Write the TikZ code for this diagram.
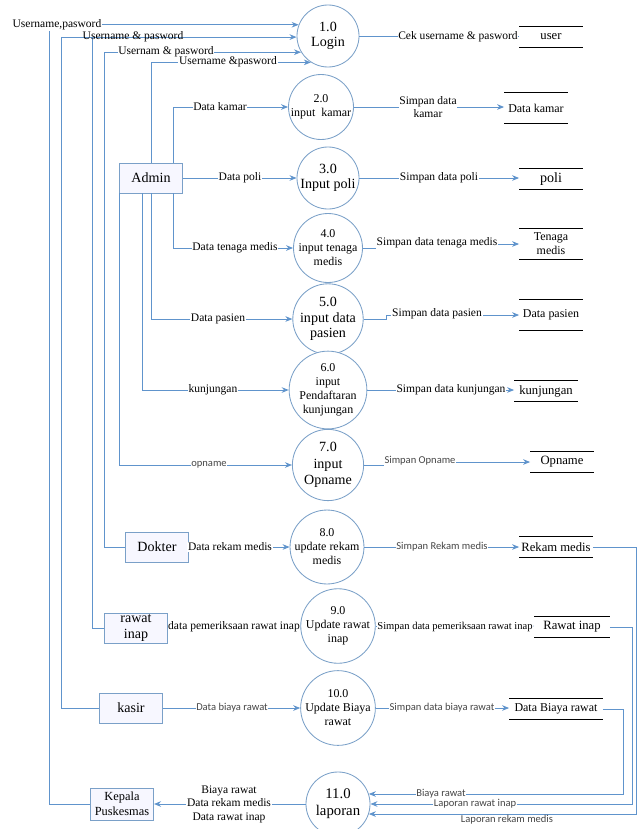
\documentclass[tikz,border=0pt]{standalone}
\usepackage{fontspec}
\setmainfont{Liberation Serif}
\newfontfamily\lblsans{Carlito}
\usepackage{tikz}
\usetikzlibrary{arrows.meta}
\usepackage{xcolor}
\definecolor{flowblue}{RGB}{96,148,204}
\definecolor{bubbleblue}{RGB}{122,160,200}
\definecolor{labelgray}{RGB}{70,70,70}

\begin{document}
\begin{tikzpicture}[x=0.025cm, y=-0.025cm,
  proc/.style={circle, draw=bubbleblue, fill=white, line width=0.6pt, minimum size=1.55cm, inner sep=0, align=center, font=\fontsize{10}{11}\selectfont},
  smalltxt/.style={font=\fontsize{8.5}{10}\selectfont},
  ent/.style={rectangle, draw=bubbleblue, fill=blue!3, line width=0.6pt, minimum width=1.58cm, minimum height=0.75cm, inner sep=1pt, align=center, font=\fontsize{10}{11}\selectfont},
  store/.style={minimum width=1.58cm, minimum height=0.5cm, inner sep=0, align=center, font=\fontsize{9}{10}\selectfont},
  flow/.style={draw=flowblue, line width=0.6pt, -{Stealth[length=5pt,width=4pt]}},
  link/.style={draw=flowblue, line width=0.6pt},
  lbl/.style={fill=white, inner sep=0.5pt, align=center, font=\fontsize{8.2}{9.6}\selectfont},
  slbl/.style={fill=white, inner sep=0.5pt, text=labelgray, font=\lblsans\fontsize{7.5}{8.5}\selectfont}]
\useasboundingbox (0,0) rectangle (638,829);

% processes
\node[proc] (Login) at (328,36) {1.0\\Login};
\node[proc, smalltxt] (p2) at (321,107) {2.0\\input\ \ kamar};
\node[proc] (p3) at (328,178) {3.0\\Input poli};
\node[proc, smalltxt] (p4) at (328,248) {4.0\\input tenaga\\medis};
\node[proc] (p5) at (328,319) {5.0\\input data\\pasien};
\node[proc, smalltxt, minimum size=1.78cm] (p6) at (328,390) {6.0\\input\\Pendaftaran\\kunjungan};
\node[proc, minimum size=1.78cm, font=\fontsize{10}{11.8}\selectfont] (p7) at (328,465) {7.0\\input\\Opname};
\node[proc, smalltxt, minimum size=1.78cm] (p8) at (327,547) {8.0\\update rekam\\medis};
\node[proc, smalltxt, minimum size=1.78cm] (p9) at (338,626) {9.0\\Update rawat\\inap};
\node[proc, smalltxt, minimum size=1.8cm] (p10) at (338,708) {10.0\\Update Biaya\\rawat};
\node[proc, font=\fontsize{10.5}{12}\selectfont, minimum size=1.6cm] (p11) at (338,804) {11.0\\laporan};

% entities
\node[ent] (admin) at (151,178) {Admin};
\node[ent] (dokter) at (157,547) {Dokter};
\node[ent] (rawat) at (136,628) {rawat\\inap};
\node[ent] (kasir) at (131,708) {kasir};
\node[ent, minimum height=0.8cm, font=\fontsize{8.8}{10.5}\selectfont] (kepala) at (122,804) {Kepala\\Puskesmas};

% data stores
\node[store, minimum height=0.53cm] (user) at (551,37) {user};
\node[store, minimum height=0.75cm, font=\fontsize{8.5}{10}\selectfont] (kamarS) at (536,108) {Data kamar};
\node[store, font=\fontsize{10}{11}\selectfont] (poliS) at (551,179) {poli};
\node[store, minimum height=0.75cm, font=\fontsize{8.5}{10}\selectfont] (tenagaS) at (551,244) {Tenaga\\medis};
\node[store, minimum height=0.78cm, font=\fontsize{8.5}{10}\selectfont] (pasienS) at (551,315) {Data pasien};
\node[store] (kunjS) at (546,391) {kunjungan};
\node[store] (opnameS) at (562,462) {Opname};
\node[store, minimum width=1.83cm] (rekamS) at (556,547) {Rekam medis};
\node[store, minimum width=1.88cm] (rawatS) at (572,627) {Rawat inap};
\node[store, minimum width=2.33cm, font=\fontsize{8.5}{10}\selectfont] (biayaS) at (556,709) {Data Biaya rawat};
\foreach \s in {user,kamarS,poliS,tenagaS,pasienS,kunjS,opnameS,rekamS,rawatS,biayaS}
  \draw[line width=0.8pt] (\s.north west) -- (\s.north east) (\s.south west) -- (\s.south east);

% bus lines
\coordinate (busK) at (49,0);
\coordinate (busS) at (61,0);
\coordinate (busR) at (92,0);
\coordinate (busD) at (104,0);
\coordinate (busA) at (173,0);
\coordinate (busB) at (142,0);

% flows into login
\draw[flow] (kepala.west) -| (Login.159 -| busK) -- (Login.159);
\draw[flow] (kasir.west) -| (Login.182 -| busS) -- (Login.182);
\draw[link] (rawat.west) -| (Login.182 -| busR);
\draw[flow] (dokter.west) -| (Login.211 -| busD) -- (Login.211);
\draw[flow] (admin.north) |- (Login.237);

% admin flows
\draw[flow] (admin.north -| busA) |- (p2);
\draw[flow] (admin) -- (p3);
\draw[flow] (admin.south -| busA) |- (p4);
\draw[flow] (admin.south) |- (p5);
\draw[flow] (admin.south -| busB) |- (p6);
\draw[flow] (admin.south west) |- (p7);
\draw[flow] (dokter) -- (p8);
\draw[flow] (rawat.east) -- (rawat.east -| p9.west);
\draw[flow] (kasir) -- (p10);
\draw[flow] (p11) -- (kepala);

% into stores
\draw[link] (Login.east) -- (Login.east -| user.west);
\draw[flow] (p2.east) -- (p2.east -| kamarS.west);
\draw[flow] (p3.east) -- (p3.east -| poliS.west);
\draw[flow] (p4.east) -- ++(16,0) |- (tenagaS.west);
\draw[flow] (p5.east) -- ++(23,0) |- (pasienS.west);
\draw[flow] (p6.east) -- (p6.east -| kunjS.west);
\draw[flow] (p7.east) -- ++(22,0) |- (opnameS.west);
\draw[flow] (p8.east) -- (p8.east -| rekamS.west);
\draw[flow] (p9.east) -- (p9.east -| rawatS.west);
\draw[flow] (p10.east) -- (p10.east -| biayaS.west);

% stores to laporan
\draw[flow] (biayaS.east) -- ++(21,0) |- (p11.18);
\draw[flow] (rawatS.east) -- ++(23,0) |- (p11.east);
\draw[flow] (rekamS.east) -- ++(44,0) |- (p11.342);

% labels
\node[lbl] (tKep) at (57,25) {Username,pasword};
\node[lbl, fill=none] (tKas) at (133,37) {Username \& pasword};
\node[lbl] (tDok) at (166,52) {Usernam \& pasword};
\node[lbl] (tAdm) at (228,62) {Username \&pasword};
\node[lbl] (tKamar) at (220,107) {Data kamar};
\node[lbl] (tPoli) at (240,178) {Data poli};
\node[lbl] (tTenaga) at (235,248) {Data tenaga medis};
\node[lbl] (tPasien) at (218,319) {Data pasien};
\node[lbl] (tKunj) at (213,390) {kunjungan};
\node[slbl] (tOpname) at (209,465) {opname};
\node[lbl] (tRekam) at (230,547) {Data rekam medis};
\node[lbl] (tRawat) at (234,627) {data pemeriksaan rawat inap};
\node[slbl] (tBiaya) at (232,708) {Data biaya rawat};
\node[lbl] (tLap) at (229,804) {Biaya rawat\\Data rekam medis\\Data rawat inap};
\node[lbl] (sUser) at (458,37) {Cek username \& pasword};
\node[lbl] (sKamar) at (428,107) {Simpan data\\kamar};
\node[lbl] (sPoli) at (439,178) {Simpan data poli};
\node[lbl] (sTenaga) at (437,243) {Simpan data tenaga medis};
\node[lbl] (sPasien) at (437,314) {Simpan data pasien};
\node[lbl] (sKunj) at (451,390) {Simpan data kunjungan};
\node[slbl] (sOpname) at (420,461) {Simpan Opname};
\node[slbl] (sRekam) at (442,547) {Simpan Rekam medis};
\node[lbl, font=\fontsize{7.5}{9}\selectfont] (sRawat) at (455,627) {Simpan data pemeriksaan rawat inap};
\node[slbl] (sBiaya) at (442,708) {Simpan data biaya rawat};
\node[slbl] (rBiaya) at (441,794) {Biaya rawat};
\node[slbl] (rRawat) at (475,804) {Laporan rawat inap};
\node[slbl, fill=none] (rRekam) at (507,820) {Laporan rekam medis};
\end{tikzpicture}
\end{document}
